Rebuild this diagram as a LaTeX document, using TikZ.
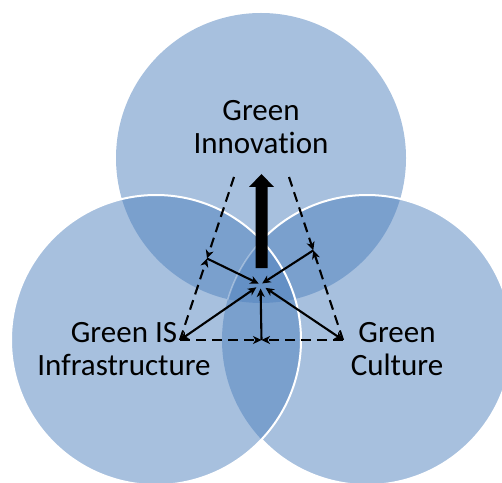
\documentclass[tikz,border=0pt]{standalone}
\usepackage{fontspec}
\setmainfont{Carlito}[Ligatures=CommonOff]
\usetikzlibrary{arrows.meta,calc}
\definecolor{vennblue}{RGB}{79,129,189}
\begin{document}
\begin{tikzpicture}[x=1pt,y=1pt,
  venn/.style={fill=vennblue,fill opacity=0.5},
  rim/.style={draw=white,line width=2pt},
  venntext/.style={font=\fontsize{31}{33}\selectfont,align=center,inner sep=0pt,text=black},
  tip/.tip={Stealth[length=8.5pt,width=8pt,inset=2.5pt]},
  link/.style={line width=2.1pt,-tip,shorten >=2pt},
  twoway/.style={line width=2.1pt,tip-tip,shorten >=2pt},
  guide/.style={line width=2.1pt,dash pattern=on 10pt off 6pt,-tip},
]
\useasboundingbox (0,0) rectangle (502,482);
\clip (0,0) rectangle (502,482);

% circle centres
\coordinate (cT) at (261,324);
\coordinate (cL) at (156,142);
\coordinate (cR) at (367,142);

% translucent discs
\fill[venn] (cT) circle (145);
\fill[venn] (cL) circle (145);
\fill[venn] (cR) circle (145);

% white rims
\draw[rim] (cL) circle (145);
\draw[rim] (cR) ++(-136.7:145) arc[start angle=-136.7,end angle=136.7,radius=145];
\draw[white,opacity=0.35,line width=1.5pt] (cR) ++(136.7:145) arc[start angle=136.7,end angle=163.7,radius=145];

% labels
\node[venntext] (inno)  at (261,354.5) {Green\\Innovation};
\node[venntext] (infra) at (124,133)   {Green IS\\Infrastructure};
\node[venntext] (cult)  at (397,133)   {Green\\Culture};

% construction points
\coordinate (C)  at (260.5,197.5);
\coordinate (L)  at (180,142);
\coordinate (R)  at (343,142);
\coordinate (B)  at (261.5,142);
\coordinate (TL) at (234,305);
\coordinate (TR) at (289,305);
\coordinate (ML) at ($(L)!0.5!(TL)$);
\coordinate (MR) at ($(R)!0.55!(TR)$);

% dashed guides meeting at their midpoints
\draw[guide] (L)  -- (B);
\draw[guide] (R)  -- (B);
\draw[guide] (L)  -- (ML);
\draw[guide] (TL) -- (ML);
\draw[guide] (R)  -- (MR);
\draw[guide] (TR) -- (MR);

% solid links to the centre
\draw[twoway,shorten <=0pt,shorten >=5pt] (L) -- (C);
\draw[twoway,shorten <=0pt,shorten >=6pt] (R) -- (C);
\draw[link] (ML) -- (C);
\draw[link] (MR) -- (C);
\draw[link,shorten >=4pt] (B)  -- (C);

% bold upward arrow
\fill[black] (255.5,214) -- (267.5,214) -- (267.5,295) -- (274,295)
  -- (261.5,308) -- (249,295) -- (255.5,295) -- cycle;
\end{tikzpicture}
\end{document}
